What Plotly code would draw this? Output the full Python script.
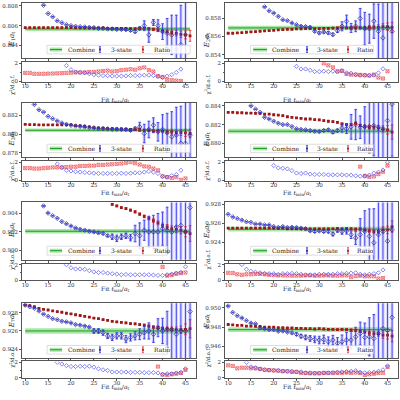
import plotly.graph_objects as go

# ---------------- DATA (errors in units of 1e-4) ----------------
labels = ["E<sub>1</sub>", "E<sub>2</sub>", "E<sub>3</sub>", "E<sub>4</sub>",
          "E<sub>5</sub>", "E<sub>6</sub>", "E<sub>7</sub>", "E<sub>8</sub>"]
yticks = [[0.804, 0.806, 0.808], [0.854, 0.856, 0.858], [0.878, 0.880, 0.882], [0.880, 0.882, 0.884],
          [0.900, 0.902, 0.904], [0.924, 0.926, 0.928], [0.924, 0.926, 0.928], [0.946, 0.948, 0.950]]
yranges = [[0.8027, 0.8083], [0.8536, 0.8597], [0.87754, 0.88338], [0.87857, 0.88431],
           [0.89898, 0.90519], [0.92215, 0.92821], [0.92296, 0.92907], [0.94471, 0.9505]]
combine_tmin = [10, 46]
combine_val = [0.80567, 0.85695, 0.88042, 0.88130, 0.90207, 0.92538, 0.92600, 0.94773]
combine_err = [0.00020, 0.00025, 0.00020, 0.00025, 0.00025, 0.00025, 0.00030, 0.00025]

# Panel 1
E1_s_t = list(range(14, 46))
E1_s_v = [0.80807, 0.80723, 0.80690, 0.80650, 0.80630, 0.80610, 0.80600, 0.80593, 0.80590, 0.80587,
          0.80583, 0.80580, 0.80573, 0.80573, 0.80567, 0.80567, 0.80563, 0.80563, 0.80560, 0.80553,
          0.80540, 0.80573, 0.80600, 0.80507, 0.80633, 0.80600, 0.80540, 0.80523, 0.80507, 0.80357,
          0.80407, 0.80510]
E1_s_e = [0.3, 0.3, 0.3, 0.3, 0.3, 0.4, 0.4, 0.4, 0.4, 0.5, 0.5, 0.5, 0.6, 0.6, 0.7, 0.7, 0.8, 0.8,
          0.9, 1.0, 1.2, 1.5, 5, 7.5, 3, 6, 8, 15, 20, 35, 40, 60]
E1_r_t = list(range(10, 47))
E1_r_v = [0.80580, 0.80580, 0.80580, 0.80580, 0.80580, 0.80580, 0.80580, 0.80580, 0.80580, 0.80580,
          0.80580, 0.80577, 0.80577, 0.80577, 0.80577, 0.80577, 0.80577, 0.80577, 0.80573, 0.80573,
          0.80573, 0.80573, 0.80573, 0.80570, 0.80570, 0.80570, 0.80573, 0.80567, 0.80563, 0.80557,
          0.80547, 0.80540, 0.80533, 0.80523, 0.80513, 0.80507, 0.80497]
E1_r_e = [0.3, 0.3, 0.3, 0.3, 0.3, 0.3, 0.3, 0.3, 0.4, 0.4, 0.4, 0.4, 0.4, 0.5, 0.5, 0.5, 0.5, 0.6,
          0.6, 0.6, 0.7, 0.7, 0.8, 0.8, 0.9, 1.0, 1.1, 1.2, 1.3, 1.5, 1.7, 2.0, 2.3, 2.7, 3.2, 4, 5.5]
E1_chi_s_t = list(range(19, 45))
E1_chi_s = [1.75, 1.3, 1.05, 1.0, 0.95, 0.85, 0.75, 0.7, 0.65, 0.65, 0.6, 0.6, 0.6, 0.62, 0.65, 0.65,
            0.65, 0.7, 0.7, 0.65, 0.55, 0.45, 0.6, 0.75, 1.0, 1.35]
E1_chi_r_t = list(range(10, 45))
E1_chi_r = [0.95, 0.95, 0.85, 0.85, 0.85, 0.87, 0.88, 0.9, 0.92, 0.95, 0.97, 1.0, 1.0, 1.0, 1.05, 1.05,
            1.1, 1.15, 1.2, 1.1, 1.15, 1.25, 1.3, 1.35, 1.3, 1.45, 1.55, 1.25, 1.1, 0.6, 0.5, 0.2,
            0.15, 0.1, 0.05]

# Panel 2
E2_s_t = list(range(18, 47))
E2_s_v = [0.85927, 0.85884, 0.85858, 0.85822, 0.85785, 0.85775, 0.85749, 0.85730, 0.85713, 0.85709,
          0.85702, 0.85658, 0.85640, 0.85650, 0.85640, 0.85622, 0.85665, 0.85713, 0.85767, 0.85695,
          0.85713, 0.85800, 0.85687, 0.85687, 0.85770, 0.85658, 0.85585, 0.85695, 0.85658]
E2_s_e = [0.4, 0.4, 0.4, 0.5, 0.5, 0.5, 0.6, 0.6, 0.7, 0.8, 0.9, 1.0, 1.2, 1.2, 1.3, 1.5, 2, 5, 7,
          5, 6, 11, 18, 16, 19, 30, 45, 50, 60]
E2_r_t = list(range(10, 47))
E2_r_v = [0.85636, 0.85636, 0.85640, 0.85644, 0.85647, 0.85651, 0.85655, 0.85658, 0.85662, 0.85665,
          0.85669, 0.85673, 0.85676, 0.85680, 0.85680, 0.85684, 0.85684, 0.85687, 0.85687, 0.85687,
          0.85687, 0.85689, 0.85691, 0.85693, 0.85695, 0.85695, 0.85695, 0.85695, 0.85695, 0.85695,
          0.85695, 0.85702, 0.85702, 0.85702, 0.85709, 0.85709, 0.85702]
E2_r_e = [0.3, 0.3, 0.3, 0.3, 0.3, 0.3, 0.3, 0.3, 0.4, 0.4, 0.4, 0.4, 0.4, 0.5, 0.5, 0.5, 0.5, 0.6,
          0.6, 0.6, 0.7, 0.7, 0.8, 0.8, 0.9, 1.0, 1.1, 1.2, 1.3, 1.5, 1.7, 2.0, 2.3, 2.7, 3.2, 4, 5.5]
E2_chi_s_t = list(range(25, 45))
E2_chi_s = [1.67, 1.38, 1.38, 1.24, 1.09, 1.09, 1.13, 1.09, 1.13, 1.06, 1.2, 0.95, 0.91, 0.76, 0.69,
            0.69, 0.69, 0.69, 0.95, 1.4]
E2_chi_r_t = list(range(31, 46))
E2_chi_r = [2.0, 1.78, 1.56, 1.13, 1.16, 0.84, 0.76, 0.76, 0.73, 0.69, 0.65, 0.76, 0.44, 0.33, 1.13]

# Panel 3
E3_s_t = list(range(12, 47))
E3_s_v = [0.88319, 0.88262, 0.88237, 0.88191, 0.88166, 0.88142, 0.88120, 0.88106, 0.88096, 0.88088,
          0.88085, 0.88078, 0.88071, 0.88067, 0.88060, 0.88060, 0.88057, 0.88053, 0.88053, 0.88050,
          0.88050, 0.88042, 0.88060, 0.88078, 0.88007, 0.88050, 0.88096, 0.88025, 0.88050, 0.88014,
          0.87972, 0.87990, 0.87901, 0.87901, 0.87990]
E3_s_e = [0.3, 0.3, 0.3, 0.3, 0.3, 0.3, 0.4, 0.4, 0.4, 0.4, 0.5, 0.5, 0.5, 0.6, 0.6, 0.7, 0.7, 0.8,
          0.9, 1.0, 1.1, 1.3, 1.5, 5, 10, 9, 8, 10, 16, 21, 27, 30, 40, 50, 60]
E3_r_t = list(range(10, 47))
E3_r_v = [0.88106, 0.88103, 0.88103, 0.88099, 0.88099, 0.88099, 0.88099, 0.88099, 0.88099, 0.88099,
          0.88099, 0.88092, 0.88088, 0.88085, 0.88078, 0.88071, 0.88067, 0.88064, 0.88060, 0.88060,
          0.88057, 0.88057, 0.88053, 0.88050, 0.88050, 0.88050, 0.88042, 0.88042, 0.88035, 0.88035,
          0.88032, 0.88025, 0.88025, 0.88018, 0.88018, 0.88014, 0.88007]
E3_r_e = [0.3, 0.3, 0.3, 0.3, 0.3, 0.3, 0.3, 0.3, 0.4, 0.4, 0.4, 0.4, 0.4, 0.5, 0.5, 0.5, 0.5, 0.6,
          0.6, 0.6, 0.7, 0.7, 0.8, 0.8, 0.9, 1.0, 1.1, 1.2, 1.3, 1.5, 1.7, 2.0, 2.3, 2.7, 3.2, 3.8, 4.5]
E3_chi_s_t = list(range(17, 45))
E3_chi_s = [1.8, 1.41, 1.1, 1.02, 0.94, 0.9, 0.86, 0.82, 0.78, 0.75, 0.75, 0.75, 0.75, 0.75, 0.78,
            0.75, 0.78, 0.82, 0.82, 0.9, 0.98, 0.9, 0.75, 0.43, 0.35, 0.51, 0.63, 1.1]
E3_chi_r_t = list(range(10, 46))
E3_chi_r = [1.33, 1.33, 1.29, 1.29, 1.33, 1.37, 1.41, 1.41, 1.41, 1.45, 1.49, 1.49, 1.57, 1.57, 1.61,
            1.61, 1.69, 1.69, 1.73, 1.76, 1.8, 1.84, 1.92, 2.0, 1.88, 1.73, 1.53, 1.49, 1.29, 1.1,
            0.43, 0.35, 0.24, 0.35, 0.04, 0.2]

# Panel 4
E4_s_t = list(range(15, 47))
E4_s_v = [0.88398, 0.88363, 0.88329, 0.88277, 0.88259, 0.88235, 0.88214, 0.88200, 0.88200, 0.88179,
          0.88155, 0.88148, 0.88144, 0.88137, 0.88130, 0.88127, 0.88137, 0.88144, 0.88120, 0.88137,
          0.88165, 0.88155, 0.88176, 0.88200, 0.88172, 0.88179, 0.88179, 0.88189, 0.88172, 0.88155,
          0.88242, 0.88416]
E4_s_e = [0.3, 0.3, 0.3, 0.4, 0.4, 0.4, 0.4, 0.5, 0.5, 0.5, 0.6, 0.6, 0.7, 0.7, 0.8, 0.9, 1.0, 1.1,
          1.3, 1.5, 4.5, 5, 13, 16, 12, 21, 28, 32, 40, 45, 50, 55]
E4_r_t = list(range(10, 47))
E4_r_v = [0.88329, 0.88329, 0.88325, 0.88325, 0.88322, 0.88322, 0.88318, 0.88318, 0.88311, 0.88311,
          0.88304, 0.88300, 0.88294, 0.88283, 0.88276, 0.88270, 0.88266, 0.88259, 0.88259, 0.88252,
          0.88249, 0.88242, 0.88235, 0.88231, 0.88224, 0.88207, 0.88200, 0.88200, 0.88214, 0.88190,
          0.88179, 0.88172, 0.88172, 0.88165, 0.88155, 0.88144, 0.88120]
E4_r_e = [0.3, 0.3, 0.3, 0.3, 0.3, 0.3, 0.3, 0.3, 0.4, 0.4, 0.4, 0.4, 0.4, 0.5, 0.5, 0.5, 0.5, 0.6,
          0.6, 0.6, 0.7, 0.7, 0.8, 0.8, 0.9, 1.0, 1.1, 1.2, 1.3, 1.5, 1.7, 2.0, 2.3, 2.7, 3.2, 4.5, 7.5]
E4_chi_s_t = list(range(20, 46))
E4_chi_s = [1.62, 1.36, 1.32, 1.25, 1.06, 0.79, 0.75, 0.79, 0.68, 0.64, 0.64, 0.64, 0.6, 0.6, 0.6,
            0.6, 0.57, 0.57, 0.49, 0.45, 0.45, 0.57, 0.79, 0.9, 1.13, 2.0]
E4_chi_r_t = list(range(39, 46))
E4_chi_r = [1.5, 0.49, 0.38, 0.42, 0.68, 0.94, 1.62]

# Panel 5
E5_s_t = list(range(14, 47))
E5_s_v = [0.90481, 0.90404, 0.90375, 0.90347, 0.90312, 0.90288, 0.90263, 0.90242, 0.90228, 0.90218,
          0.90207, 0.90200, 0.90189, 0.90182, 0.90158, 0.90147, 0.90130, 0.90147, 0.90158, 0.90137,
          0.90182, 0.90158, 0.90218, 0.90200, 0.90200, 0.90200, 0.90235, 0.90218, 0.90200, 0.90253,
          0.90270, 0.90200, 0.90463]
E5_s_e = [0.4, 0.4, 0.4, 0.4, 0.5, 0.5, 0.5, 0.5, 0.6, 0.6, 0.7, 0.7, 0.8, 0.9, 1.0, 3, 3.5, 3, 3,
          3.5, 9, 14, 11, 17, 18, 20, 18, 25, 35, 45, 50, 60, 70]
E5_r_t = list(range(29, 47))
E5_r_v = [0.90498, 0.90481, 0.90463, 0.90453, 0.90435, 0.90418, 0.90393, 0.90368, 0.90347, 0.90323,
          0.90298, 0.90270, 0.90253, 0.90235, 0.90228, 0.90218, 0.90200, 0.90182]
E5_r_e = [0.8, 0.9, 1.0, 1.0, 1.1, 1.2, 1.3, 1.5, 1.7, 1.9, 2.1, 2.4, 2.7, 3.0, 3.4, 4, 5.5, 8.5]
E5_chi_s_t = list(range(19, 46))
E5_chi_s = [2.0, 1.59, 1.43, 1.43, 1.39, 1.22, 1.06, 0.98, 0.98, 0.9, 0.82, 0.78, 0.69, 0.73, 0.69,
            0.69, 0.69, 0.69, 0.69, 0.65, 0.61, 0.61, 0.69, 0.78, 0.9, 1.0, 1.71]
E5_chi_r_t = list(range(40, 46))
E5_chi_r = [1.71, 0.57, 0.65, 0.82, 0.9, 0.98]

# Panel 6
E6_s_t = list(range(10, 47))
E6_s_v = [0.92696, 0.92668, 0.92651, 0.92634, 0.92617, 0.92610, 0.92593, 0.92593, 0.92583, 0.92583,
          0.92566, 0.92556, 0.92566, 0.92556, 0.92559, 0.92556, 0.92549, 0.92542, 0.92521, 0.92514,
          0.92521, 0.92514, 0.92514, 0.92487, 0.92530, 0.92514, 0.92521, 0.92480, 0.92446, 0.92480,
          0.92514, 0.92463, 0.92395, 0.92480, 0.92514, 0.92412, 0.92531]
E6_s_e = [0.3, 0.3, 0.3, 0.3, 0.3, 0.4, 0.4, 0.4, 0.4, 0.5, 0.5, 0.5, 0.6, 0.6, 0.7, 0.7, 0.8, 0.9,
          1.0, 1.1, 1.2, 1.3, 1.5, 2, 2.5, 3, 3.5, 4, 7, 17, 22, 29, 36, 41, 50, 60, 70]
E6_r_t = list(range(10, 47))
E6_r_v = [0.92549, 0.92549, 0.92549, 0.92549, 0.92549, 0.92549, 0.92549, 0.92549, 0.92549, 0.92549,
          0.92549, 0.92549, 0.92549, 0.92542, 0.92542, 0.92542, 0.92542, 0.92542, 0.92542, 0.92542,
          0.92542, 0.92542, 0.92542, 0.92542, 0.92542, 0.92542, 0.92542, 0.92542, 0.92538, 0.92538,
          0.92531, 0.92521, 0.92514, 0.92514, 0.92531, 0.92531, 0.92566]
E6_r_e = [0.3, 0.3, 0.3, 0.3, 0.3, 0.3, 0.3, 0.3, 0.4, 0.4, 0.4, 0.4, 0.4, 0.5, 0.5, 0.5, 0.5, 0.6,
          0.6, 0.6, 0.7, 0.7, 0.8, 0.8, 0.9, 1.0, 1.1, 1.2, 1.3, 1.5, 1.7, 2.0, 2.3, 2.7, 3.2, 4, 6]
E6_chi_s_t = list(range(13, 45))
E6_chi_s = [2.0, 1.4, 1.13, 1.02, 0.94, 0.87, 0.83, 0.83, 0.75, 0.83, 0.83, 0.87, 0.83, 0.75, 0.68,
            0.68, 0.68, 0.75, 0.75, 0.75, 0.75, 0.83, 0.83, 0.87, 0.91, 0.94, 0.75, 0.68, 0.75, 0.83,
            0.94, 1.32]
E6_chi_r_t = list(range(10, 45))
E6_chi_r = [0.94, 0.91, 0.75, 0.68, 0.75, 0.75, 0.79, 0.79, 0.75, 0.68, 0.64, 0.6, 0.6, 0.6, 0.57,
            0.57, 0.57, 0.6, 0.6, 0.57, 0.57, 0.6, 0.6, 0.57, 0.57, 0.6, 0.6, 0.38, 0.53, 0.57, 0.49,
            0.49, 0.49, 0.19, 0.26]

# Panel 7
E7_s_t = list(range(10, 47))
E7_s_v = [0.92886, 0.92868, 0.92850, 0.92821, 0.92786, 0.92761, 0.92736, 0.92725, 0.92707, 0.92700,
          0.92689, 0.92671, 0.92664, 0.92654, 0.92643, 0.92600, 0.92600, 0.92582, 0.92546, 0.92529,
          0.92546, 0.92546, 0.92511, 0.92529, 0.92546, 0.92564, 0.92582, 0.92600, 0.92564, 0.92636,
          0.92600, 0.92618, 0.92618, 0.92564, 0.92600, 0.92600, 0.92814]
E7_s_e = [0.3, 0.3, 0.3, 0.3, 0.4, 0.4, 0.4, 0.4, 0.5, 0.5, 0.5, 0.6, 0.6, 0.7, 0.8, 2.5, 2.5, 3, 3,
          3.5, 3.5, 3.5, 4, 4, 4.5, 6, 7, 9, 9, 10, 14, 20, 36, 45, 55, 65, 75]
E7_r_t = list(range(10, 47))
E7_r_v = [0.92886, 0.92879, 0.92868, 0.92850, 0.92839, 0.92832, 0.92821, 0.92814, 0.92807, 0.92796,
          0.92789, 0.92779, 0.92771, 0.92761, 0.92754, 0.92743, 0.92736, 0.92725, 0.92718, 0.92707,
          0.92700, 0.92696, 0.92689, 0.92682, 0.92679, 0.92671, 0.92664, 0.92654, 0.92643, 0.92636,
          0.92629, 0.92625, 0.92618, 0.92614, 0.92614, 0.92618, 0.92625]
E7_r_e = [0.3, 0.3, 0.3, 0.3, 0.3, 0.3, 0.3, 0.3, 0.4, 0.4, 0.4, 0.4, 0.4, 0.5, 0.5, 0.5, 0.5, 0.6,
          0.6, 0.6, 0.7, 0.7, 0.8, 0.8, 0.9, 1.0, 1.1, 1.2, 1.3, 1.5, 1.7, 2.0, 2.5, 3.0, 4.0, 6, 10]
E7_chi_s_t = list(range(17, 46))
E7_chi_s = [2.0, 1.79, 1.58, 1.46, 1.46, 1.5, 1.46, 1.5, 1.38, 1.17, 1.04, 0.96, 0.75, 0.75, 0.75,
            0.75, 0.71, 0.71, 0.71, 0.67, 0.67, 0.67, 0.63, 0.46, 0.54, 0.54, 0.63, 0.71, 1.17]
E7_chi_r_t = list(range(39, 46))
E7_chi_r = [1.46, 0.42, 0.38, 0.46, 0.54, 0.63, 1.04]

# Panel 8
E8_s_t = list(range(10, 47))
E8_s_v = [0.95020, 0.94953, 0.94919, 0.94895, 0.94868, 0.94841, 0.94834, 0.94793, 0.94783, 0.94773,
          0.94773, 0.94756, 0.94759, 0.94749, 0.94739, 0.94725, 0.94705, 0.94692, 0.94681, 0.94671,
          0.94664, 0.94671, 0.94647, 0.94664, 0.94630, 0.94647, 0.94664, 0.94664, 0.94698, 0.94732,
          0.94692, 0.94698, 0.94681, 0.94732, 0.94783, 0.94766, 0.94902]
E8_s_e = [0.4, 0.4, 0.4, 0.4, 0.4, 0.5, 0.5, 0.5, 0.6, 0.6, 0.7, 0.7, 0.8, 0.9, 1.0, 1.5, 2, 2.5, 3,
          3.5, 4, 4.5, 5, 5, 6, 7, 8, 9, 10, 12, 15, 20, 25, 40, 45, 50, 60]
E8_r_t = list(range(10, 47))
E8_r_v = [0.94827, 0.94824, 0.94817, 0.94817, 0.94810, 0.94810, 0.94807, 0.94807, 0.94800, 0.94800,
          0.94800, 0.94793, 0.94793, 0.94790, 0.94790, 0.94787, 0.94787, 0.94783, 0.94783, 0.94780,
          0.94783, 0.94780, 0.94776, 0.94776, 0.94773, 0.94776, 0.94773, 0.94769, 0.94766, 0.94759,
          0.94749, 0.94739, 0.94732, 0.94732, 0.94715, 0.94715, 0.94705]
E8_r_e = [0.3, 0.3, 0.3, 0.3, 0.3, 0.3, 0.3, 0.3, 0.4, 0.4, 0.4, 0.4, 0.4, 0.5, 0.5, 0.5, 0.5, 0.6,
          0.6, 0.6, 0.7, 0.7, 0.8, 0.8, 0.9, 1.0, 1.1, 1.2, 1.3, 1.5, 1.7, 2.0, 2.3, 2.7, 3.2, 4, 6]
E8_chi_s_t = list(range(14, 46))
E8_chi_s = [2.0, 1.42, 1.31, 1.15, 1.04, 1.0, 0.96, 0.96, 0.88, 0.85, 0.85, 0.77, 0.77, 0.65, 0.65,
            0.62, 0.62, 0.65, 0.65, 0.69, 0.73, 0.77, 0.81, 0.85, 0.92, 0.73, 0.65, 0.69, 0.73, 0.85,
            1.04, 1.54]
E8_chi_r_t = list(range(10, 46))
E8_chi_r = [1.62, 1.54, 1.23, 1.31, 1.31, 1.23, 1.23, 1.15, 1.04, 1.0, 0.96, 0.92, 0.85, 0.85, 0.77,
            0.77, 0.65, 0.62, 0.58, 0.58, 0.58, 0.62, 0.62, 0.62, 0.65, 0.65, 0.69, 0.65, 0.69, 0.62,
            0.38, 0.46, 0.54, 0.62, 0.65, 1.42]

xticks = [10, 15, 20, 25, 30, 35, 40, 45]
legend_names = ["Combine", "3-state", "Ratio"]

panels = []
g = globals()
for i in range(1, 9):
    P = {k: g[f"E{i}_{k}"] for k in ["s_t", "s_v", "s_e", "r_t", "r_v", "r_e",
                                      "chi_s_t", "chi_s", "chi_r_t", "chi_r"]}
    for a, b in [("s_t", "s_v"), ("s_t", "s_e"), ("r_t", "r_v"), ("r_t", "r_e"),
                 ("chi_s_t", "chi_s"), ("chi_r_t", "chi_r")]:
        assert len(P[a]) == len(P[b]), (i, a, b, len(P[a]), len(P[b]))
    panels.append(P)

# ---------------- STYLE / LAYOUT ----------------
FONT = "DejaVu Serif"
BLUE = "#3535ee"
BLUE_PALE = "rgba(120,120,255,0.28)"
BLUE_MK = "#2a2a88"
RED = "#ee3a40"
RED_MK = "#9a1a1a"
GREEN = "#1f9a1f"
GREEN_BAND = "rgba(60,205,60,0.45)"
AX = "#555555"

W = H = 400
col_x = [(22, 196), (225, 398)]
row_main = [(1, 57), (102, 157), (203, 261), (305, 361)]
row_chi = [(61, 81), (161, 181), (265, 282), (364, 381)]
title_off = [12.5, 12.5, 14.5, 14.5]
xrange_ = [9.3, 47.3]

def px(v):
    return v / W

def py(v):
    return 1 - v / H

fig = go.Figure()
layout = {}
shapes = []
annotations = []

legend_geo = {
    0: dict(box=(0.144, 0.966), green=(0.16, 0.23), ctext=0.25, bx=0.448, btext=0.50, rx=0.695, rtext=0.745),
    1: dict(box=(0.148, 0.857), green=(0.163, 0.243), ctext=0.262, bx=0.474, btext=0.52, rx=0.711, rtext=0.751),
}

for p, P in enumerate(panels):
    r, c = divmod(p, 2)
    m, k = 2 * p + 1, 2 * p + 2
    xm = "x" if m == 1 else f"x{m}"
    ym = "y" if m == 1 else f"y{m}"
    xc, yc = f"x{k}", f"y{k}"
    x0, x1 = col_x[c]
    mt, mb = row_main[r]
    ct, cb = row_chi[r]

    v, e = combine_val[p], combine_err[p]
    fig.add_trace(go.Scatter(x=[combine_tmin[0], combine_tmin[1], combine_tmin[1], combine_tmin[0]],
                             y=[v + e, v + e, v - e, v - e], fill="toself", fillcolor=GREEN_BAND,
                             mode="lines", line=dict(width=0), xaxis=xm, yaxis=ym,
                             showlegend=False, hoverinfo="skip"))
    fig.add_trace(go.Scatter(x=combine_tmin, y=[v, v], mode="lines", line=dict(color=GREEN, width=1),
                             xaxis=xm, yaxis=ym, showlegend=False, name=legend_names[0]))
    se = [q * 1e-4 for q in P["s_e"]]
    re_ = [q * 1e-4 for q in P["r_e"]]
    fig.add_trace(go.Scatter(x=P["s_t"], y=P["s_v"], mode="markers", marker=dict(size=1, opacity=0),
                             error_y=dict(type="data", array=se, color=BLUE_PALE, thickness=3.5, width=0),
                             xaxis=xm, yaxis=ym, showlegend=False, hoverinfo="skip"))
    fig.add_trace(go.Scatter(x=P["r_t"], y=P["r_v"], mode="markers",
                             marker=dict(symbol="square", size=2.8, color=RED_MK),
                             error_y=dict(type="data", array=re_, color=RED, thickness=1, width=1.3),
                             xaxis=xm, yaxis=ym, showlegend=False, name=legend_names[2]))
    fig.add_trace(go.Scatter(x=P["s_t"], y=P["s_v"], mode="markers",
                             marker=dict(symbol="diamond-open", size=3.5, color=BLUE_MK, line=dict(width=0.7)),
                             error_y=dict(type="data", array=se, color=BLUE, thickness=0.9, width=1.3),
                             xaxis=xm, yaxis=ym, showlegend=False, name=legend_names[1]))
    fig.add_trace(go.Scatter(x=P["chi_r_t"], y=P["chi_r"], mode="markers",
                             marker=dict(symbol="square-x-open", size=3.2, color=RED, line=dict(width=0.6)),
                             xaxis=xc, yaxis=yc, showlegend=False))
    fig.add_trace(go.Scatter(x=P["chi_s_t"], y=P["chi_s"], mode="markers",
                             marker=dict(symbol="diamond-open", size=3.2, color=BLUE, line=dict(width=0.6)),
                             xaxis=xc, yaxis=yc, showlegend=False))

    common_x = dict(domain=[px(x0), px(x1)], range=xrange_, tickvals=xticks, ticks="outside",
                    ticklen=2, tickwidth=0.6, tickcolor=AX, showline=True, mirror=True, linecolor=AX,
                    linewidth=0.8, showgrid=False, zeroline=False,
                    tickfont=dict(family=FONT, size=5.5, color="#333"))
    common_y = dict(ticks="outside", ticklen=2, tickwidth=0.6, tickcolor=AX, showline=True, mirror=True,
                    linecolor=AX, linewidth=0.8, showgrid=False, zeroline=False,
                    tickfont=dict(family=FONT, size=5.5, color="#333"))
    layout["xaxis" if m == 1 else f"xaxis{m}"] = dict(common_x, anchor=ym, showticklabels=False)
    layout["yaxis" if m == 1 else f"yaxis{m}"] = dict(common_y, anchor=xm, domain=[py(mb), py(mt)],
                                                       range=yranges[p], tickvals=yticks[p],
                                                       ticktext=[f"{t:.3f}" for t in yticks[p]])
    layout[f"xaxis{k}"] = dict(common_x, anchor=yc, ticklabelstandoff=-3)
    layout[f"yaxis{k}"] = dict(common_y, anchor=xc, domain=[py(cb), py(ct)], range=[-0.05, 2.12],
                               tickvals=[0, 2], ticktext=["0", "2"],
                               minor=dict(tickvals=[1], ticks="outside", ticklen=1.5, tickcolor=AX))

    lx = 6 if c == 0 else 207
    annotations.append(dict(x=px(lx), y=py((mt + mb) / 2), xref="paper", yref="paper", textangle=-90,
                            text=f"<i>{labels[p]}a</i><sub>t</sub>".replace("<i>E<sub>", "<i>E</i><sub>").replace("</sub>a</i>", "</sub><i>a</i>"),
                            showarrow=False, font=dict(family=FONT, size=7, color="#222")))
    annotations.append(dict(x=px(lx + 1), y=py((ct + cb) / 2), xref="paper", yref="paper", textangle=-90,
                            text="χ<sup>2</sup>/d.o.f.", showarrow=False,
                            font=dict(family=FONT, size=5.2, color="#222")))
    tx = 99 if c == 0 else 313
    annotations.append(dict(x=px(tx), y=py(cb + title_off[r]), xref="paper", yref="paper",
                            text="Fit <i>t</i><sub>min</sub>/<i>a</i><sub>t</sub>", showarrow=False,
                            font=dict(family=FONT, size=6, color="#222")))

    Lg = legend_geo[c]
    bx0, bx1 = Lg["box"]
    if c == 0 and r >= 2:
        bx1 = 0.835
    by0, by1 = 0.08, 0.235
    ymid = (by0 + by1) / 2
    xr, yr = f"{xm} domain", f"{ym} domain"
    shapes.append(dict(type="rect", xref=xr, yref=yr, x0=bx0, x1=bx1, y0=by0, y1=by1,
                       fillcolor="rgba(255,255,255,0.85)", line=dict(color="#c8c8c8", width=0.6),
                       layer="above"))
    shapes.append(dict(type="line", xref=xr, yref=yr, x0=Lg["green"][0], x1=Lg["green"][1], y0=ymid, y1=ymid,
                       line=dict(color=GREEN_BAND, width=4), layer="above"))
    shapes.append(dict(type="line", xref=xr, yref=yr, x0=Lg["green"][0], x1=Lg["green"][1], y0=ymid, y1=ymid,
                       line=dict(color=GREEN, width=1), layer="above"))
    for gx, col, mk in [(Lg["bx"], BLUE, BLUE_MK), (Lg["rx"], RED, RED_MK)]:
        shapes.append(dict(type="line", xref=xr, yref=yr, x0=gx, x1=gx, y0=by0 + 0.025, y1=by1 - 0.025,
                           line=dict(color=col, width=1), layer="above"))
        for yy in (by0 + 0.025, by1 - 0.025):
            shapes.append(dict(type="line", xref=xr, yref=yr, x0=gx - 0.006, x1=gx + 0.006, y0=yy, y1=yy,
                               line=dict(color=col, width=0.8), layer="above"))
        shapes.append(dict(type="rect", xref=xr, yref=yr, x0=gx - 0.005, x1=gx + 0.005,
                           y0=ymid - 0.018, y1=ymid + 0.018, fillcolor=mk, line=dict(width=0),
                           layer="above"))
    for tx_, name in [(Lg["ctext"], legend_names[0]), (Lg["btext"], legend_names[1]),
                      (Lg["rtext"], legend_names[2])]:
        annotations.append(dict(x=tx_, y=ymid, xref=xr, yref=yr, text=name, showarrow=False,
                                xanchor="left", yanchor="middle",
                                font=dict(family=FONT, size=6, color="#222")))

fig.update_layout(width=W, height=H, margin=dict(l=0, r=0, t=0, b=0), plot_bgcolor="white",
                  paper_bgcolor="white", showlegend=False, shapes=shapes, annotations=annotations,
                  **layout)
fig.write_html("out.html")
